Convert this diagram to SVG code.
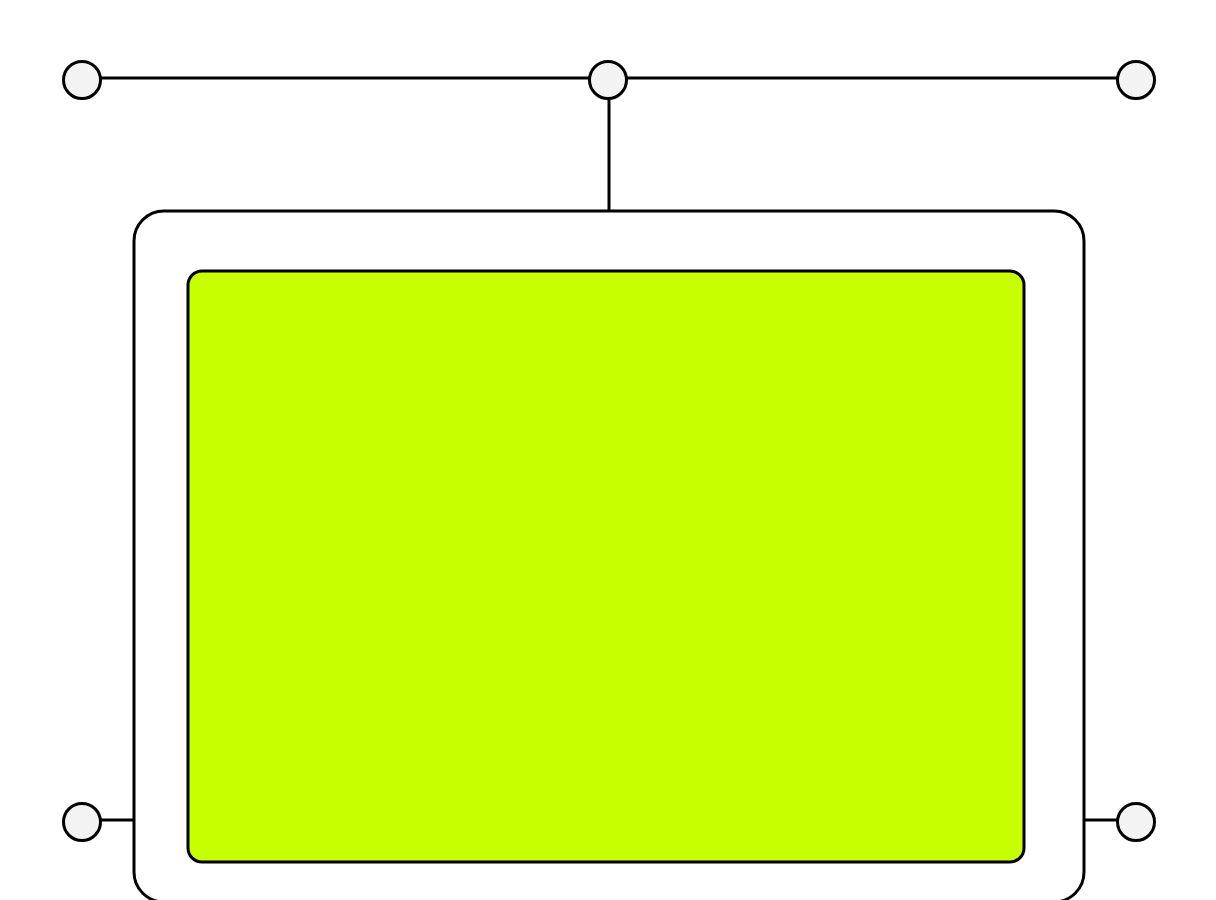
<svg xmlns="http://www.w3.org/2000/svg" width="1216" height="900" viewBox="0 0 1216 900">
<style>
.ln{stroke:#000;stroke-width:3;fill:none}
.port{fill:#f3f3f3;stroke:#000;stroke-width:3}
</style>
<rect width="1216" height="900" fill="#fff"/>
<g id="connectors">
<line class="ln" x1="100" y1="78" x2="590" y2="78"/>
<line class="ln" x1="626" y1="78" x2="1118" y2="78"/>
<line class="ln" x1="609" y1="97" x2="609" y2="212"/>
<line class="ln" x1="100" y1="820" x2="134" y2="820"/>
<line class="ln" x1="1084" y1="820" x2="1118" y2="820"/>
</g>
<g id="outer"><rect class="ln" x="134" y="211" width="950" height="691" rx="30"/></g>
<g id="inner"><rect x="188" y="271" width="836" height="591" rx="14" fill="#c8ff00" stroke="#000" stroke-width="3"/></g>
<g id="p1"><circle class="port" cx="82" cy="80" r="18.5"/></g>
<g id="p2"><circle class="port" cx="608" cy="80" r="18.5"/></g>
<g id="p3"><circle class="port" cx="1136" cy="80" r="18.5"/></g>
<g id="p4"><circle class="port" cx="82" cy="822" r="18.5"/></g>
<g id="p5"><circle class="port" cx="1136" cy="822" r="18.5"/></g>
</svg>
